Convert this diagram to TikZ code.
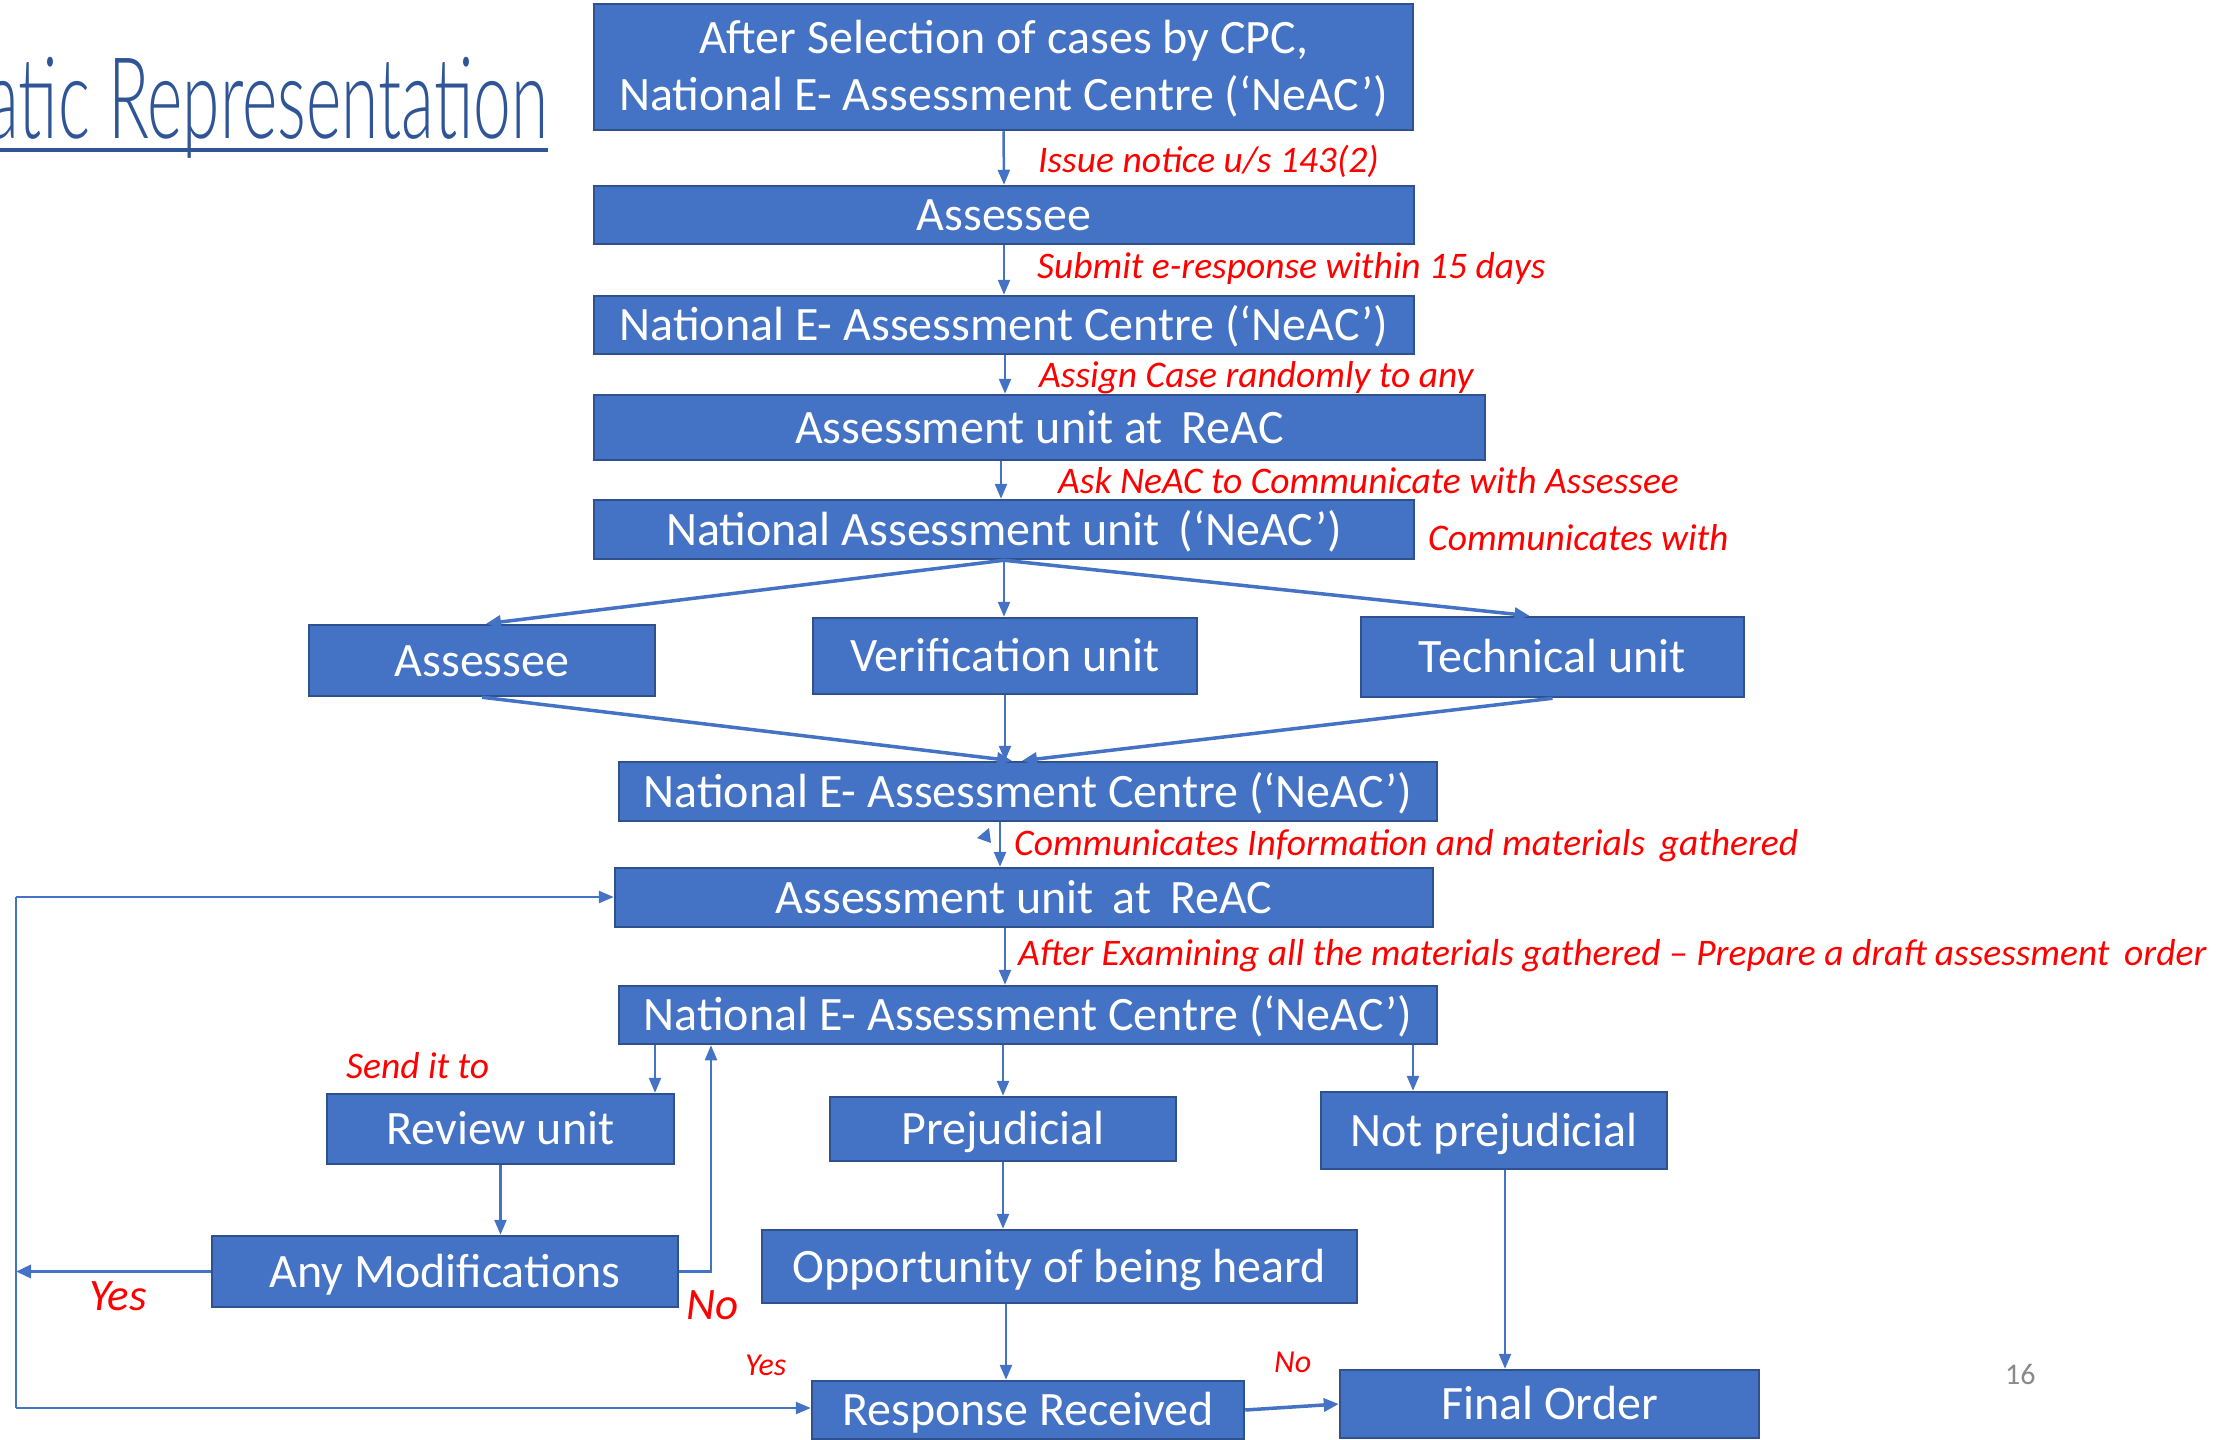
\documentclass[tikz,border=0pt]{standalone}
\usepackage{fontspec}
\setmainfont{Carlito}
\IfFontExistsTF{FiraSans-Light.otf}{\newfontfamily\titlefont{FiraSans-Light.otf}}{%
  \IfFontExistsTF{SourceSansPro-Light.otf}{\newfontfamily\titlefont{SourceSansPro-Light.otf}}{%
    \IfFontExistsTF{Lato-Light.ttf}{\newfontfamily\titlefont{Lato-Light.ttf}}{\newfontfamily\titlefont{Fira Sans}}}}
\usetikzlibrary{arrows.meta,calc}
\definecolor{boxblue}{HTML}{4472C4}
\definecolor{boxedge}{HTML}{2F528F}
\definecolor{titleblue}{HTML}{2F5597}
\definecolor{pagegray}{HTML}{898989}
\begin{document}
\begin{tikzpicture}[x=1pt,y=-1pt,
  box/.style={draw=boxedge,line width=2.5pt,fill=boxblue,text=white,inner sep=0pt,
    font=\fontsize{48}{57}\selectfont,text height=31pt,text depth=0pt},
  arr/.style={draw=boxblue,line width=2.5pt,-{Triangle[length=15pt,width=12pt]}},
  darr/.style={draw=boxblue,line width=3.5pt,-{Triangle[length=15pt,width=13pt]}},
  ln/.style={draw=boxblue,line width=2.5pt},
  lbl/.style={text=red,font=\fontsize{37.5}{40}\selectfont\itshape,anchor=base west,inner sep=0pt},
  btxt/.style={text=white,font=\fontsize{48}{57}\selectfont,anchor=base,inner sep=0pt},
]
\useasboundingbox (0,0) rectangle (2220,1440);
% title
\node[anchor=base west,inner sep=0pt,text=titleblue] (title) at (-14,138)
  {\resizebox{562pt}{\height}{\titlefont\fontsize{113}{113}\selectfont atic Representation}};
\draw[titleblue,line width=4.5pt] (0,150) -- (548,150);

% boxes
\node[box,minimum width=819pt,minimum height=126pt] (b1) at (1003.5,67) {};
\node[btxt] (b1a) at (1003.5,53) {After Selection of cases by CPC,};
\node[btxt] (b1b) at (1003.5,110) {National E- Assessment Centre (‘NeAC’)};
\node[box,minimum width=820pt,minimum height=58pt] (b2) at (1004,215) {Assessee};
\node[box,minimum width=820pt,minimum height=58pt] (b3) at (1004,325) {National E- Assessment Centre (‘NeAC’)};
\node[box,minimum width=891pt,minimum height=65pt] (b4) at (1039.5,427.5) {Assessment unit at\, ReAC};
\node[box,minimum width=820pt,minimum height=59pt] (b5) at (1004,529.5) {National Assessment unit\, (‘NeAC’)};
\node[box,minimum width=346pt,minimum height=71pt] (r1) at (482,660.5) {Assessee};
\node[box,minimum width=384pt,minimum height=76pt] (r2) at (1005,656) {Verification unit};
\node[box,minimum width=383pt,minimum height=80pt] (r3) at (1552.5,657) {Technical unit};
\node[box,minimum width=818pt,minimum height=59pt] (b7) at (1028,791.5) {National E- Assessment Centre (‘NeAC’)};
\node[box,minimum width=818pt,minimum height=59pt] (b8) at (1024,897.5) {Assessment unit\, at\, ReAC};
\node[box,minimum width=818pt,minimum height=58pt] (b9) at (1028,1015) {National E- Assessment Centre (‘NeAC’)};
\node[box,minimum width=347pt,minimum height=70pt] (b10) at (500.5,1129) {Review unit};
\node[box,minimum width=346pt,minimum height=64pt] (b11) at (1003,1129) {Prejudicial};
\node[box,minimum width=346pt,minimum height=77pt] (b12) at (1494,1130.5) {Not prejudicial};
\node[box,minimum width=466pt,minimum height=71pt] (b13) at (445,1271.5) {Any Modifications};
\node[box,minimum width=595pt,minimum height=73pt] (b14) at (1059.5,1266.5) {Opportunity of being heard};
\node[box,minimum width=432pt,minimum height=58pt] (b15) at (1028,1410) {Response Received};
\node[box,minimum width=419pt,minimum height=68pt] (b16) at (1549.5,1404) {Final Order};

% connectors top part
\draw[arr] (b1.south) -- (b2.north);
\draw[arr] (b2.south) -- (b3.north);
\draw[arr] ([xshift=1pt]b3.south) -- ([xshift=1pt]b3.south |- b4.north);
\draw[arr] ([xshift=-3pt]b4.south -| b5.north) -- ([xshift=-3pt]b5.north);
\draw[darr] (b5.south) -- ([xshift=4pt]r1.north);
\draw[arr] (b5.south) -- (b5.south |- r2.north);
\draw[darr] (b5.south) -- ([xshift=-23pt]r3.north);
\draw[darr] (r1.south) -- ([xshift=-16pt]b7.north);
\draw[arr] (r2.south) -- (r2.south |- b7.north);
\draw[darr] (r3.south) -- ([xshift=-6pt]b7.north);
\draw[arr] ([xshift=-28pt]b7.south) -- ([xshift=-28pt]b7.south |- b8.north);
\fill[boxblue] (989,828) -- (977,838) -- (991,843) -- cycle;
\draw[arr] ([xshift=-19pt]b8.south) -- ([xshift=-19pt]b8.south |- b9.north);

% lower part
\draw[arr] ([xshift=-373pt]b9.south) -- ([xshift=-373pt]b9.south |- b10.north);
\draw[arr] (b11.north |- b9.south) -- (b11.north);
\draw[arr] ([xshift=385pt]b9.south) -- ([xshift=385pt]b9.south |- b12.north);
\draw[arr] (b10.south) -- (b10.south |- b13.north);
\draw[arr] (b11.south) -- (b11.south |- b14.north);
\draw[arr] ([xshift=-22pt]b15.north |- b14.south) -- ([xshift=-22pt]b15.north);
\draw[darr] (b15.east) -- (b16.west);
\draw[arr] ([xshift=11pt]b12.south) -- ([xshift=11pt]b12.south |- b16.north);
\draw[arr] (b13.east) -| ([xshift=-317pt]b9.south);

\coordinate (lt) at (16,897);
\coordinate (lb) at (16,1408);
\coordinate (ly) at (16,1271.5);
\draw[ln] (lt) -- (lb);
\draw[arr] (lt) -- (lt -| b8.west);
\draw[arr] (lb) -- (lb -| b15.west);
\draw[darr] (b13.west) -- (ly);

% labels
\node[lbl] (l1) at (1038,172) {Issue notice u/s 143(2)};
\node[lbl] (l2) at (1037,278) {Submit e-response within 15 days};
\node[lbl] (l3) at (1039,387) {Assign Case randomly to any};
\node[lbl] (l4) at (1058,493) {Ask NeAC to Communicate with Assessee};
\node[lbl] (l5) at (1428,550) {Communicates with};
\node[lbl] (l6) at (1014,855) {Communicates Information and materials\, gathered};
\node[lbl] (l7) at (1018,965) {After Examining all the materials gathered – Prepare a draft assessment\, order};
\node[lbl] (l8) at (346,1078) {Send it to};
\node[lbl,font=\fontsize{45}{48}\selectfont\itshape] (y1) at (89,1310) {Yes};
\node[lbl,font=\fontsize{45}{48}\selectfont\itshape] (n1) at (686,1319) {No};
\node[lbl,font=\fontsize{32}{36}\selectfont\itshape] (y2) at (745,1375) {Yes};
\node[lbl,font=\fontsize{32}{36}\selectfont\itshape] (n2) at (1274,1372) {No};
\node[anchor=base west,inner sep=0pt,text=pagegray,font=\fontsize{30}{34}\selectfont] (pg) at (2005,1384) {16};
\end{tikzpicture}
\end{document}
